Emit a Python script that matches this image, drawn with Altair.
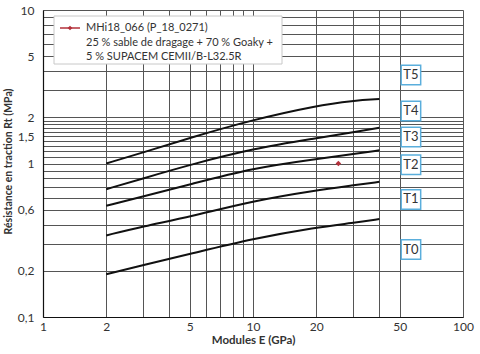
import altair as alt
import pandas as pd

# ---- data ----
E = [2, 3, 5, 10, 20, 30, 40]
curve_T0_T1 = [0.19, 0.218, 0.257, 0.324, 0.384, 0.41, 0.435]
curve_T1_T2 = [0.34, 0.39, 0.45, 0.572, 0.67, 0.72, 0.76]
curve_T2_T3 = [0.53, 0.61, 0.73, 0.935, 1.07, 1.15, 1.22]
curve_T3_T4 = [0.68, 0.80, 0.98, 1.25, 1.46, 1.60, 1.71]
curve_T4_T5 = [1.0, 1.18, 1.47, 1.93, 2.38, 2.57, 2.63]

sample_E = [25.5]
sample_Rt = [1.0]

classes = ["T0", "T1", "T2", "T3", "T4", "T5"]
class_Rt = [0.275, 0.583, 0.98, 1.49, 2.2, 3.77]
class_E = 56.5

legend_lines = [
    "MHi18_066 (P_18_0271)",
    "25 % sable de dragage + 70 % Goaky +",
    "5 % SUPACEM CEMII/B-L32.5R",
]

x_grid = [1, 2, 3, 4, 5, 6, 7, 8, 9, 10, 20, 30, 40, 50, 100]
x_labels = [1, 2, 5, 10, 20, 50, 100]
y_grid = [0.1, 0.2, 0.3, 0.4, 0.5, 0.6, 0.7, 0.8, 0.9, 1, 1.1, 1.2, 1.3, 1.4,
          1.5, 1.6, 1.7, 1.8, 1.9, 2, 3, 4, 5, 6, 7, 8, 9, 10]
# tick labels as printed in the reference (the "0,6" label sits on the 0.5 line there)
y_label_values = [0.1, 0.2, 0.5, 1, 1.5, 2, 5, 10]
y_label_texts = ["0,1", "0,2", "0,6", "1", "1,5", "2", "5", "10"]

FONT = "Lato"
W, H = 420, 307

curves = []
for name, vals in [("T0/T1", curve_T0_T1), ("T1/T2", curve_T1_T2),
                   ("T2/T3", curve_T2_T3), ("T3/T4", curve_T3_T4),
                   ("T4/T5", curve_T4_T5)]:
    for e, r in zip(E, vals):
        curves.append({"curve": name, "E": e, "Rt": r})
curves_df = pd.DataFrame(curves)

y_expr = "{" + ",".join(f"'{v}':'{t}'" for v, t in zip(y_label_values, y_label_texts)) + "}"
x_expr = "indexof(" + str(x_labels) + ", datum.value) >= 0 ? datum.label : ''"

xs = alt.Scale(type="log", domain=[1, 100], nice=False)
ys = alt.Scale(type="log", domain=[0.1, 10], nice=False)

x_axis = alt.Axis(values=x_grid, grid=True, gridColor="#555", gridOpacity=1,
                  gridWidth=1, ticks=False, tickSize=0, labelExpr=x_expr,
                  labelFont=FONT, labelFontSize=12, labelColor="#333",
                  labelPadding=4, labelOverlap=False, labelFlush=False,
                  domainColor="#111", domainWidth=1.2,
                  title="Modules E (GPa)", titleFont=FONT, titleFontSize=11.5,
                  titleFontWeight="bold", titleColor="#333",
                  titleY=23, titleBaseline="middle")
y_axis = alt.Axis(values=y_grid, grid=True, gridColor="#555", gridOpacity=1,
                  gridWidth=1, ticks=False, tickSize=0,
                  labelExpr=f"({y_expr})[''+datum.value] || ''",
                  labelFont=FONT, labelFontSize=12, labelColor="#333",
                  labelPadding=9, labelOverlap=False, labelFlush=False,
                  domainColor="#111", domainWidth=1.2,
                  title="Résistance en traction Rt (MPa)", titleFont=FONT,
                  titleFontSize=10.5, titleFontWeight="bold", titleColor="#333",
                  titleX=-35, titleY=151, titleBaseline="middle",
                  titleAngle=270)

X = alt.X("E:Q", scale=xs, axis=x_axis)
Y = alt.Y("Rt:Q", scale=ys, axis=y_axis)

lines = alt.Chart(curves_df).mark_line(color="#111", strokeWidth=2,
                                        interpolate="basis").encode(
    x=X, y=Y, detail="curve:N")

pt = alt.Chart(pd.DataFrame({"E": sample_E, "Rt": sample_Rt})).mark_point(
    shape="diamond", size=30, filled=True, color="#b3303a", opacity=1
).encode(x=X, y=Y)

cls_df = pd.DataFrame({"cls": classes, "Rt": class_Rt, "E": [class_E] * len(classes)})
boxes = alt.Chart(cls_df).mark_point(shape="square", size=380, filled=True,
                                     fill="white", stroke="#5aaedc",
                                     strokeWidth=1.5, opacity=1).encode(x=X, y=Y)
box_text = alt.Chart(cls_df).mark_text(font=FONT, fontSize=13, color="#333",
                                        align="center", baseline="middle").encode(
    x=X, y=Y, text="cls:N")

one = pd.DataFrame({"a": [0]})
# legend (drawn by hand)
leg_box = alt.Chart(one).mark_rect(
    fill="white", stroke="#c8c8c8", strokeWidth=1).encode(
    x=alt.value(11), x2=alt.value(239), y=alt.value(6), y2=alt.value(54))
leg_line = alt.Chart(one).mark_rule(
    color="#b3303a", strokeWidth=1.5).encode(
    x=alt.value(17), x2=alt.value(37), y=alt.value(18))
leg_pt = alt.Chart(one).mark_point(
    shape="diamond", size=22, filled=True, color="#b3303a", opacity=1).encode(
    x=alt.value(27), y=alt.value(18))
leg_texts = [
    alt.Chart(one).mark_text(font=FONT, fontSize=11, color="#333", align="left",
                             baseline="middle", text=t).encode(
        x=alt.value(43), y=alt.value(yy))
    for t, yy in zip(legend_lines, [18, 32.5, 47])
]

chart = alt.layer(lines, pt, boxes, box_text, leg_box, leg_line, leg_pt, *leg_texts).properties(
    width=W, height=H,
    autosize=alt.AutoSizeParams(type="none"),
    padding={"left": 43, "top": 10, "right": 17, "bottom": 37},
).configure_view(stroke="#555", strokeWidth=1).configure(background="white")

chart.save("out.html", embed_options={"renderer": "svg", "actions": False})
